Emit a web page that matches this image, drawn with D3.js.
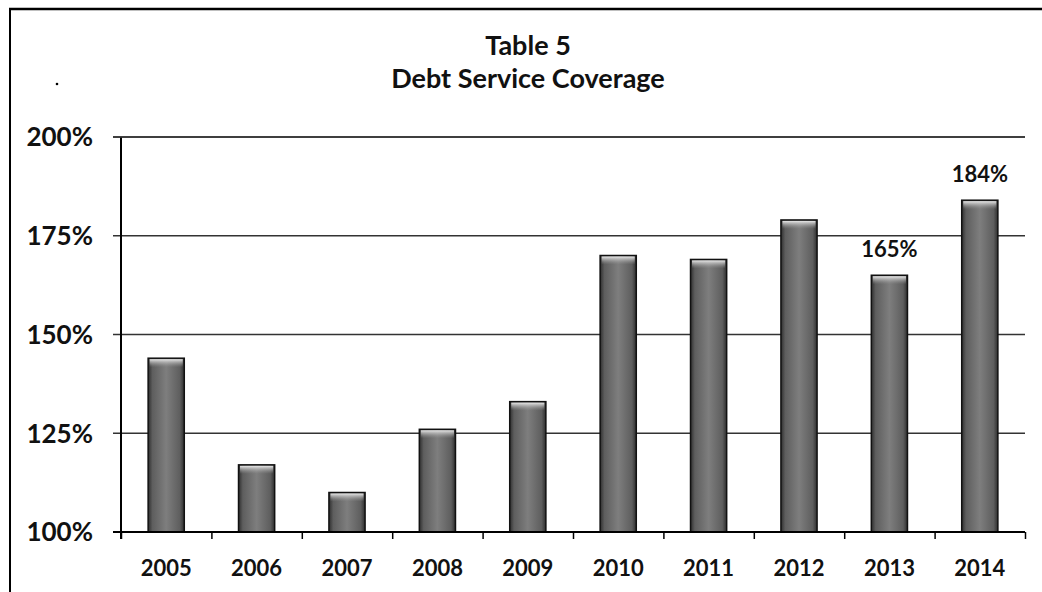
<!DOCTYPE html>
<html><head><meta charset="utf-8">
<script src="https://cdn.jsdelivr.net/npm/d3@7"></script>
<style>
html,body{margin:0;padding:0;background:#fff;}
text{font-family:Lato,"Open Sans",sans-serif;font-weight:700;fill:#111;}
</style></head>
<body>
<svg id="chart" width="1042" height="592"></svg>
<script>
const years = ["2005","2006","2007","2008","2009","2010","2011","2012","2013","2014"];
const coverage = [144,117,110,126,133,170,169,179,165,184];
const labelled = ["2013","2014"];
const yTicks = [100,125,150,175,200];
const titleLines = ["Table 5","Debt Service Coverage"];

const svg = d3.select("#chart");
const m = {left:121, right:1025, top:137, bottom:532};

// frame
svg.append("line").attr("x1",9).attr("x2",1042).attr("y1",9).attr("y2",9).attr("stroke","#000").attr("stroke-width",2.5);
svg.append("line").attr("x1",10).attr("x2",10).attr("y1",8).attr("y2",592).attr("stroke","#000").attr("stroke-width",2);

const x = d3.scaleBand().domain(years).range([m.left,m.right]).paddingInner(0.6).paddingOuter(0.3);
const y = d3.scaleLinear().domain([100,200]).range([m.bottom,m.top]);
const xb = d3.scaleLinear().domain([0,years.length]).range([m.left,m.right]);

// defs
const defs = svg.append("defs");
const g1 = defs.append("linearGradient").attr("id","barg").attr("x1","0").attr("x2","1").attr("y1","0").attr("y2","0");
[[0,"#2e2e2e"],[0.12,"#5e5e5e"],[0.5,"#7e7e7e"],[0.88,"#5e5e5e"],[1,"#2e2e2e"]].forEach(s=>g1.append("stop").attr("offset",s[0]).attr("stop-color",s[1]));
const g2 = defs.append("linearGradient").attr("id","topg").attr("x1","0").attr("x2","0").attr("y1","0").attr("y2","1");
[[0,"#e8e8e8",1],[1,"#9a9a9a",0]].forEach(s=>g2.append("stop").attr("offset",s[0]).attr("stop-color",s[1]).attr("stop-opacity",s[2]));

// gridlines with outer ticks
const grid = svg.append("g");
grid.selectAll("line").data(yTicks.slice(1)).join("line")
  .attr("x1",m.left-8).attr("x2",m.right).attr("y1",d=>y(d)).attr("y2",d=>y(d))
  .attr("stroke","#333").attr("stroke-width",1.6);

// y labels
svg.append("g").selectAll("text").data(yTicks).join("text")
  .attr("x",93).attr("y",d=>y(d)).attr("dy","0.36em").attr("text-anchor","end")
  .style("font-size","26px").text(d=>d+"%");

// bars
const bars = svg.append("g").selectAll("g").data(years).join("g");
bars.append("rect")
  .attr("x",d=>x(d)).attr("width",x.bandwidth())
  .attr("y",(d,i)=>y(coverage[i])).attr("height",(d,i)=>y(100)-y(coverage[i]))
  .attr("fill","url(#barg)").attr("stroke","#111").attr("stroke-width",1.5);
bars.append("rect")
  .attr("x",d=>x(d)+1.5).attr("width",x.bandwidth()-3)
  .attr("y",(d,i)=>y(coverage[i])+1).attr("height",8)
  .attr("fill","url(#topg)");

// x axis
const xAxis = svg.append("g").attr("transform",`translate(0,${m.bottom})`)
  .call(d3.axisBottom(xb).tickValues(d3.range(years.length+1)).tickFormat("").tickSize(7).tickSizeOuter(0));
xAxis.select(".domain").remove();
xAxis.selectAll(".tick line").attr("stroke","#000").attr("stroke-width",1.5);
svg.append("line").attr("x1",m.left-8).attr("x2",m.right).attr("y1",m.bottom).attr("y2",m.bottom).attr("stroke","#000").attr("stroke-width",1.8);
// y axis line
svg.append("line").attr("x1",m.left).attr("x2",m.left).attr("y1",m.top).attr("y2",m.bottom+7).attr("stroke","#000").attr("stroke-width",2);

// top gridline (200%)
svg.append("line").attr("x1",m.left-8).attr("x2",m.right).attr("y1",y(200)).attr("y2",y(200)).attr("stroke","#333").attr("stroke-width",1.6);

// x labels
svg.append("g").selectAll("text").data(years).join("text")
  .attr("x",d=>x(d)+x.bandwidth()/2).attr("y",m.bottom+44).attr("text-anchor","middle")
  .style("font-size","22px").text(d=>d);

// data labels
svg.append("g").selectAll("text").data(years.filter(d=>labelled.includes(d))).join("text")
  .attr("x",d=>x(d)+x.bandwidth()/2).attr("y",d=>y(coverage[years.indexOf(d)])-18)
  .attr("text-anchor","middle").style("font-size","22px").text(d=>coverage[years.indexOf(d)]+"%");

// title
svg.append("g").selectAll("text").data(titleLines).join("text")
  .attr("x",528).attr("y",(d,i)=>55+i*33).attr("text-anchor","middle")
  .style("font-size","27px").text(d=>d);

// small stray dot
svg.append("circle").attr("cx",57).attr("cy",84).attr("r",1.3).attr("fill","#000");
</script>
</body></html>
